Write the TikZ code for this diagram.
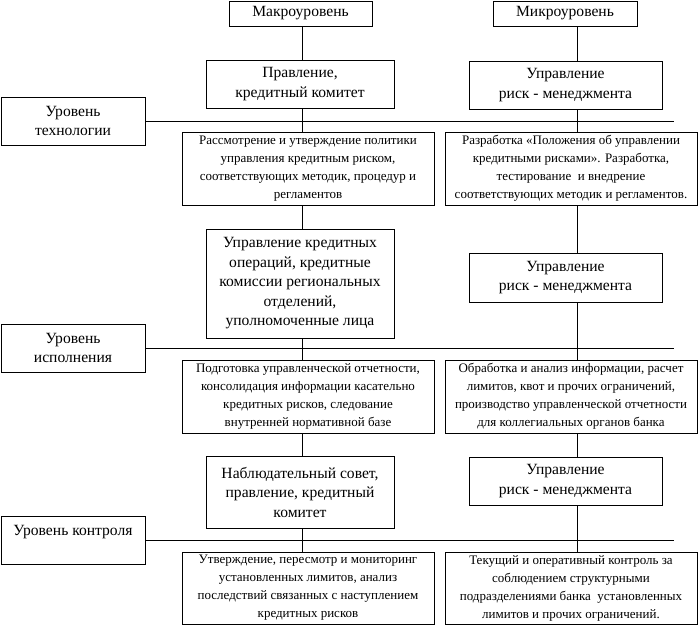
\documentclass[tikz,border=0pt]{standalone}
\usepackage{fontspec}
\setmainfont{Liberation Serif}
\usepackage{tikz}
\usetikzlibrary{calc}
\newcommand{\bigtxt}{\fontsize{15.6}{19.5}\selectfont}
\newcommand{\smalltxt}{\fontsize{13}{18}\selectfont}
\begin{document}
\begin{tikzpicture}[x=1pt,y=-1pt,line width=0.7pt,
  unitbox/.style={draw,rectangle,inner sep=0pt,align=center,font=\bigtxt},
  taskbox/.style={draw,rectangle,inner sep=0pt,align=center,font=\smalltxt,
    minimum width=252pt},
  levelbox/.style={draw,rectangle,inner sep=0pt,align=center,font=\bigtxt,
    minimum width=144pt,minimum height=48pt}]
\useasboundingbox (0,0) rectangle (698,626);
% column heads
\node[unitbox,minimum width=143pt,minimum height=25pt] (makro) at (300.5,13.5) {Макроуровень};
\node[unitbox,minimum width=144pt,minimum height=25pt] (mikro) at (565,13.5) {Микроуровень};
% level of technology
\node[unitbox,minimum width=188pt,minimum height=48pt] (pravl) at (300,84) {Правление,\\кредитный комитет};
\node[unitbox,minimum width=193pt,minimum height=48pt] (upr1) at (565.5,85) {Управление\\риск - менеджмента};
\node[levelbox] (tech) at (73,121) {Уровень\\технологии};
\node[taskbox,minimum height=73pt] (rassm) at (308,168.5) {Рассмотрение и утверждение политики\\
  управления кредитным риском,\\соответствующих методик, процедур и\\регламентов};
\node[taskbox,minimum height=73pt] (razrab) at (571,168.5) {Разработка «Положения об управлении\\
  кредитными рисками». Разработка,\\тестирование \ и внедрение\\соответствующих методик и регламентов.};
% level of execution
\node[unitbox,minimum width=188pt,minimum height=109pt] (uko) at (300,283.5) {Управление кредитных\\
  операций, кредитные\\комиссии региональных\\отделений,\\уполномоченные лица};
\node[unitbox,minimum width=193pt,minimum height=49pt] (upr2) at (565.5,277.5) {Управление\\риск - менеджмента};
\node[levelbox] (isp) at (73,348) {Уровень\\исполнения};
\node[taskbox,minimum height=73pt] (podg) at (308,396.5) {Подготовка управленческой отчетности,\\
  консолидация информации касательно\\кредитных рисков, следование\\внутренней нормативной базе};
\node[taskbox,minimum height=73pt] (obrab) at (571,396.5) {Обработка и анализ информации, расчет\\
  лимитов, квот и прочих ограничений,\\производство управленческой отчетности\\для коллегиальных органов банка};
% level of control
\node[unitbox,minimum width=188pt,minimum height=72pt] (nabl) at (300,492) {Наблюдательный совет,\\
  правление, кредитный\\комитет};
\node[unitbox,minimum width=193pt,minimum height=48pt] (upr3) at (565.5,481) {Управление\\риск - менеджмента};
\node[levelbox] (kontr) at (73,540) {Уровень контроля\\~};
\node[taskbox,minimum height=72pt] (utv) at (308,588) {Утверждение, пересмотр и мониторинг\\
  установленных лимитов, анализ\\последствий связанных с наступлением\\кредитных рисков};
\node[taskbox,minimum height=72pt] (tek) at (571,588) {Текущий и оперативный контроль за\\
  соблюдением структурными\\подразделениями банка \ установленных\\лимитов и прочих ограничений.};

\coordinate (lx) at (302,0);
\coordinate (rx) at (577,0);
\coordinate (e1) at (674,121);
\coordinate (e2) at (674,348);
\coordinate (e3) at (674,540);

\draw (tech) -- (e1);
\draw (isp) -- (e2);
\draw (kontr) -- (e3);

\draw (makro.south -| lx) -- (pravl.north -| lx);
\draw (pravl.south -| lx) -- (rassm.north -| lx);
\draw (rassm.south -| lx) -- (uko.north -| lx);
\draw (uko.south -| lx) -- (podg.north -| lx);
\draw (podg.south -| lx) -- (nabl.north -| lx);
\draw (nabl.south -| lx) -- (utv.north -| lx);

\draw (mikro.south -| rx) -- (upr1.north -| rx);
\draw (upr1.south -| rx) -- (razrab.north -| rx);
\draw (razrab.south -| rx) -- (upr2.north -| rx);
\draw (upr2.south -| rx) -- (obrab.north -| rx);
\draw (obrab.south -| rx) -- (upr3.north -| rx);
\draw (upr3.south -| rx) -- (tek.north -| rx);
\end{tikzpicture}
\end{document}
